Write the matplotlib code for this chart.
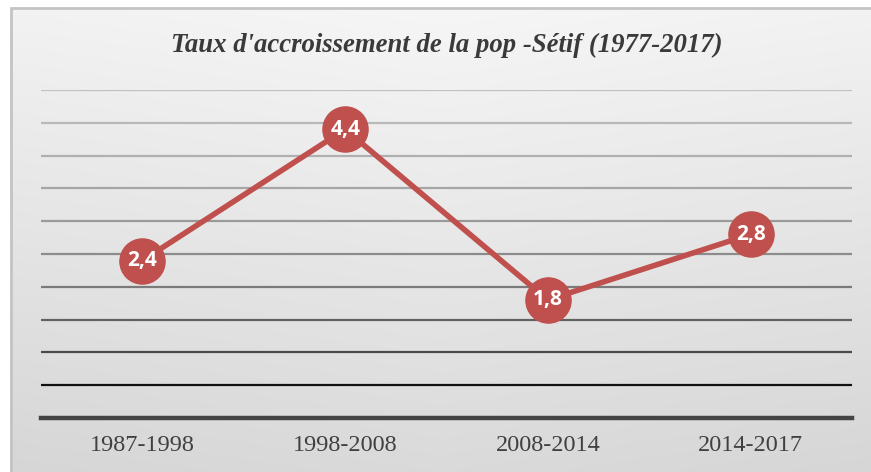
import numpy as np
import matplotlib.pyplot as plt
from matplotlib.patches import Rectangle

# data
periods = ['1987-1998', '1998-2008', '2008-2014', '2014-2017']
taux = [2.4, 4.4, 1.8, 2.8]
labels = ['2,4', '4,4', '1,8', '2,8']

fig = plt.figure(figsize=(8.71, 4.72), dpi=100)

# background gradient (chart area box)
bg = fig.add_axes([0, 0, 1, 1], zorder=0)
bg.set_axis_off()
yy, xx = np.mgrid[0:1:200j, 0:1:300j]
shade = 0.965 - 0.11 * yy - 0.03 * np.abs(xx - 0.5)
bg.imshow(np.dstack([shade] * 3), extent=[10 / 871, 1, 0, 1 - 7 / 472],
          aspect='auto', origin='upper')
bg.set_xlim(0, 1)
bg.set_ylim(0, 1)
bg.add_patch(Rectangle((10.5 / 871, -0.01), 1.2, 1 - 7.5 / 472 + 0.01,
                       fill=False, edgecolor='#c4c4c4', linewidth=2))

ax = fig.add_axes([41 / 871, 54 / 472, 811 / 871, 328 / 472], zorder=1)
ax.patch.set_alpha(0)
ax.set_xlim(-0.5, 3.5)
ax.set_ylim(0, 5)

# gridlines, getting darker toward the bottom
grid_y = np.arange(0.5, 5.01, 0.5)
grid_cols = ['#111111', '#4a4a4a', '#626262', '#7a7a7a', '#8c8c8c',
             '#9a9a9a', '#a6a6a6', '#b0b0b0', '#b8b8b8', '#c0c0c0']
for g, c in zip(grid_y, grid_cols):
    ax.axhline(g, color=c, linewidth=1.6, zorder=1)
ax.axhline(0, color='#444444', linewidth=3.2, zorder=1, clip_on=False)

for s in ax.spines.values():
    s.set_visible(False)

x = np.arange(len(periods))
ax.plot(x, taux, color='#c0504d', linewidth=4, marker='o', markersize=32.5,
        markeredgecolor='#c0504d', zorder=3, clip_on=False)
for xi, yi, lab in zip(x, taux, labels):
    ax.text(xi, yi, lab, ha='center', va='center', color='white',
            fontsize=15, fontweight='bold', family='Open Sans', zorder=4)

ax.set_xticks(x)
ax.set_xticklabels(periods, family='Liberation Serif', fontsize=17.5, color='#404040')
ax.tick_params(axis='x', length=0, pad=12)
ax.set_yticks([])

fig.text(447 / 871, 1 - 45 / 472, "Taux d'accroissement de la pop -Sétif (1977-2017)",
         ha='center', va='center', family='Liberation Serif', style='italic',
         fontweight='bold', fontsize=19.3, color='#3a3a3a')

fig.savefig('out.png', dpi=100)
